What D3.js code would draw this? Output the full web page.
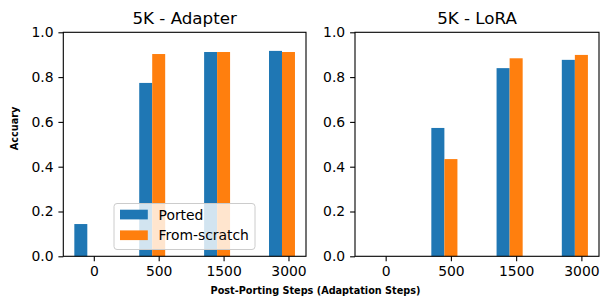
<!DOCTYPE html>
<html><head><meta charset="utf-8">
<script src="https://cdn.jsdelivr.net/npm/d3@7"></script>
<style>body{margin:0;background:#fff}svg{display:block}text{font-family:"DejaVu Sans",sans-serif}</style>
</head><body><svg id="c" width="608" height="306"></svg>
<script>
const categories = ["0","500","1500","3000"];
const seriesNames = ["Ported","From-scratch"];
const adapterPorted = [0.144,0.774,0.912,0.917];
const adapterScratch = [0,0.903,0.912,0.912];
const loraPorted = [0,0.573,0.840,0.877];
const loraScratch = [0,0.434,0.884,0.899];
const yTicks = [0,0.2,0.4,0.6,0.8,1.0];
const colors = ["#1f77b4","#ff7f0e"];

const svg = d3.select("#c");
const axTop=32.3, axBottom=256.3;
const panels = [
  {title:"5K - Adapter", left:63.3, right:306, data:[adapterPorted,adapterScratch], legend:true},
  {title:"5K - LoRA", left:355, right:599, data:[loraPorted,loraScratch], legend:false}
];
const barW = 0.2;
panels.forEach(p=>{
  const x = d3.scaleLinear().domain([-0.27,3.47]).range([p.left,p.right]);
  const y = d3.scaleLinear().domain([0,1]).range([axBottom,axTop]);
  const g = svg.append("g");
  p.data.forEach((vals,s)=>{
    g.selectAll(null).data(vals).enter().append("rect")
      .attr("x",(d,i)=>x(i-0.1+s*barW)).attr("width",(d,i)=>x(i+0.1+s*barW)-x(i-0.1+s*barW))
      .attr("y",d=>y(d)).attr("height",d=>y(0)-y(d)).attr("fill",colors[s]);
  });
  const ya = d3.axisLeft(y).tickValues(yTicks).tickFormat(d3.format(".1f")).tickSize(4.9).tickPadding(4.9);
  const xa = d3.axisBottom(x).tickValues(categories.map((c,i)=>i+0.2)).tickFormat((d,i)=>categories[i]).tickSize(4.9).tickPadding(4.9);
  const gy = g.append("g").attr("transform",`translate(${p.left},0)`).call(ya);
  const gx = g.append("g").attr("transform",`translate(0,${axBottom})`).call(xa);
  [gx,gy].forEach(a=>{a.select(".domain").remove();a.selectAll("line").attr("stroke","#000").attr("stroke-width",1.1);
    a.selectAll("text").attr("font-size",13.9).attr("fill","#000").attr("font-family","DejaVu Sans");});
  g.append("rect").attr("x",p.left).attr("y",axTop).attr("width",p.right-p.left).attr("height",axBottom-axTop)
    .attr("fill","none").attr("stroke","#000").attr("stroke-width",1.1);
  g.append("text").attr("x",(p.left+p.right)/2).attr("y",24).attr("text-anchor","middle")
    .attr("font-size",16.7).text(p.title);
  if(p.legend){
    const lg = g.append("g");
    lg.append("rect").attr("x",114).attr("y",203.5).attr("width",141).attr("height",46).attr("rx",3)
      .attr("fill","rgba(255,255,255,0.8)").attr("stroke","#cccccc").attr("stroke-width",1);
    seriesNames.forEach((n,i)=>{
      const yy = 214.5 + i*20.7;
      lg.append("rect").attr("x",120).attr("y",yy-4.8).attr("width",27.8).attr("height",9.7).attr("fill",colors[i]);
      lg.append("text").attr("x",158.5).attr("y",yy+5).attr("font-size",13.9).text(n);
    });
  }
});
svg.append("text").attr("transform","translate(18,128.5) rotate(-90)").attr("text-anchor","middle")
  .attr("font-size",9.7).attr("font-weight","bold").text("Accuary");
svg.append("text").attr("x",315.5).attr("y",294).attr("text-anchor","middle")
  .attr("font-size",9.7).attr("font-weight","bold").text("Post-Porting Steps (Adaptation Steps)");
</script></body></html>
